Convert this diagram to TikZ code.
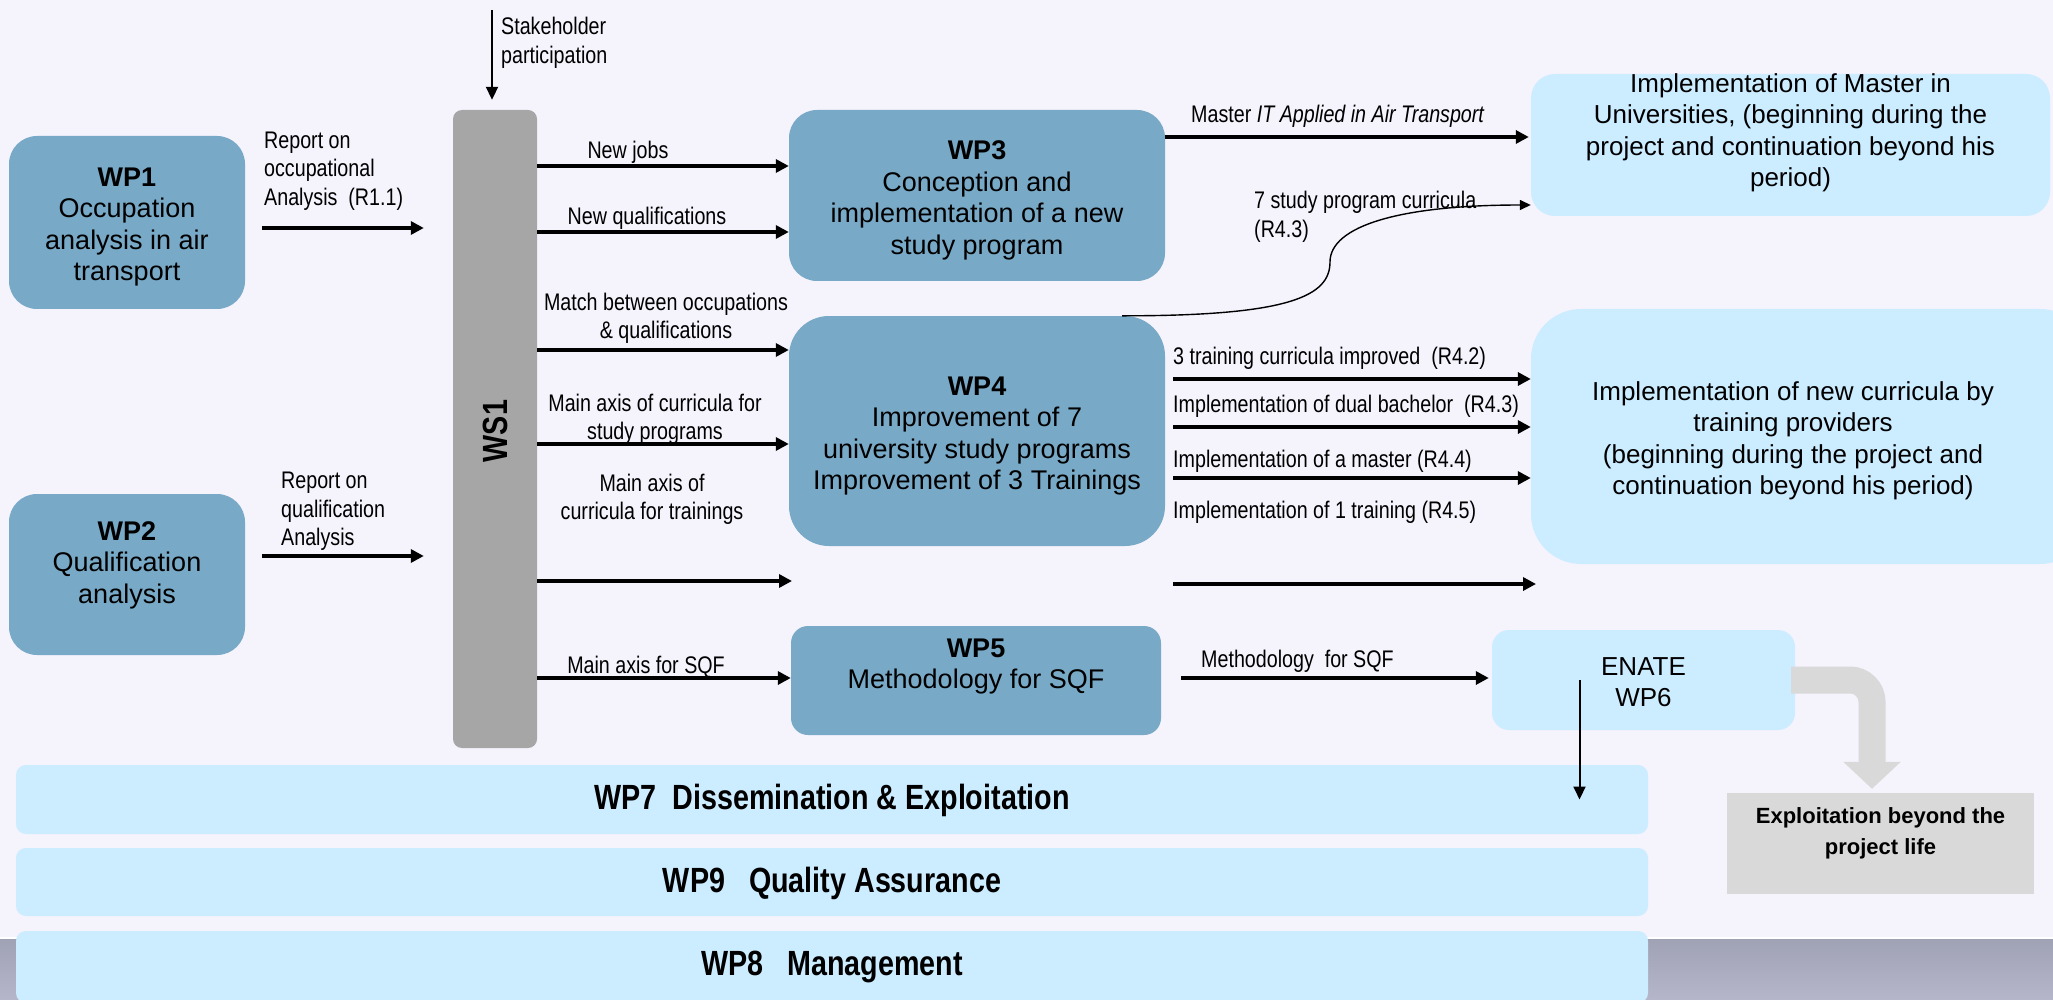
\documentclass[tikz,border=0pt]{standalone}
\usepackage{fontspec}
\setmainfont{Liberation Sans}
\newfontfamily\nar[FakeStretch=0.82]{Liberation Sans}
\usetikzlibrary{arrows.meta,calc}
\definecolor{bgc}{HTML}{F5F3FC}
\definecolor{wpblue}{HTML}{78A9C7}
\definecolor{lblue}{HTML}{CCECFF}
\definecolor{wsgray}{HTML}{A6A6A6}
\definecolor{exgray}{HTML}{D9D9D9}
\definecolor{stripT}{HTML}{9FA1B4}
\definecolor{stripB}{HTML}{B6B6CB}
\tikzset{
  wpbox/.style={fill=wpblue, draw=none, rounded corners=#1, inner sep=0pt},
  wpbox/.default=26pt,
  lbox/.style={fill=lblue, draw=none, rounded corners=#1, inner sep=0pt},
  lbox/.default=22pt,
  boxtext/.style={font=\fontsize{27}{31.5}\selectfont, align=center, inner sep=0pt},
  lboxtext/.style={font=\fontsize{26}{31.5}\selectfont, align=center, inner sep=0pt},
  band/.style={fill=lblue, draw=none, rounded corners=10pt, inner sep=0pt,
    minimum width=1632pt},
  bandtext/.style={font=\nar\bfseries\fontsize{35}{40}\selectfont, inner sep=0pt},
  lbl/.style={font=\nar\fontsize{24}{28.5}\selectfont, inner sep=0pt, align=center, yshift=-2pt},
  lbll/.style={font=\nar\fontsize{24}{28.5}\selectfont, inner sep=0pt, align=left, anchor=west, yshift=-2pt},
  arr/.style={line width=3.5pt, -{Triangle[length=13pt,width=13pt]}},
  thinarr/.style={line width=2pt, -{Triangle[length=13pt,width=12pt]}},
  curvearr/.style={line width=1.4pt, -{Triangle[length=11pt,width=10pt]}},
}
\begin{document}
\begin{tikzpicture}[x=1pt,y=-1pt]
\useasboundingbox (0,0) rectangle (2053,1000);
\clip (0,0) rectangle (2053,1000);
\fill[bgc] (0,0) rectangle (2053,1000);
\shade[top color=stripT, bottom color=stripB] (0,938) rectangle (2053,1000);
\draw[white, line width=1.5pt] (0,938) -- (2053,938);

% work packages
\node[wpbox=28pt, minimum width=236pt, minimum height=173pt,
  label={[boxtext, yshift=-4.5pt]center:{\textbf{WP1}\\Occupation\\analysis in air\\transport}}] (wp1) at (127,222.5) {};
\node[wpbox=28pt, minimum width=236pt, minimum height=161pt,
  label={[boxtext, yshift=9.5pt]center:{\textbf{WP2}\\Qualification\\analysis}}] (wp2) at (127,574.5) {};
\node[fill=wsgray, rounded corners=9pt, minimum width=84pt, minimum height=638pt, inner sep=0pt] (ws1) at (495,429) {};
\node[rotate=90, font=\nar\bfseries\fontsize{35}{40}\selectfont, inner sep=0pt] (ws1t) at (495,431) {WS1};
\node[wpbox=28pt, minimum width=376pt, minimum height=171pt,
  label={[boxtext, yshift=-5pt]center:{\textbf{WP3}\\Conception and\\implementation of a new\\study program}}] (wp3) at (977,195.5) {};
\node[wpbox=40pt, minimum width=376pt, minimum height=230pt,
  label={[boxtext, yshift=-5pt]center:{\textbf{WP4}\\Improvement of 7\\university study programs\\Improvement of 3 Trainings}}] (wp4) at (977,431) {};
\node[wpbox=17pt, minimum width=370pt, minimum height=109pt,
  label={[boxtext, yshift=14pt]center:{\textbf{WP5}\\Methodology for SQF}}] (wp5) at (976,680.5) {};

% result boxes
\node[lbox=24pt, minimum width=519pt, minimum height=142pt,
  label={[lboxtext, yshift=12pt]center:{Implementation of Master in\\Universities, (beginning during the\\project and continuation beyond his\\period)}}] (master) at (1790.5,145) {};
\node[lbox=50pt, minimum width=559pt, minimum height=255pt,
  label={[lboxtext, xshift=-17.5pt, yshift=-4.5pt]center:{Implementation of new curricula by\\training providers\\(beginning during the project and\\continuation beyond his period)}}] (curr) at (1810.5,436.5) {};
\node[lbox=17pt, minimum width=303pt, minimum height=100pt,
  label={[lboxtext, yshift=-2pt]center:{ENATE\\WP6}}] (enate) at (1643.5,680) {};
\node[fill=exgray, minimum width=307pt, minimum height=101pt, inner sep=0pt,
  label={[font=\bfseries\fontsize{22}{31}\selectfont, align=center, inner sep=0pt, yshift=10pt]center:{Exploitation beyond the\\project life}}] (expl) at (1880.5,843.5) {};

% bands
\node[band, minimum height=69pt, label={[bandtext, yshift=-1pt]center:{WP7~ Dissemination \& Exploitation}}] (wp7) at (832,799.5) {};
\node[band, minimum height=68pt, label={[bandtext, yshift=-1pt]center:{WP9~~ Quality Assurance}}] (wp9) at (832,882) {};
\node[band, minimum height=72pt, label={[bandtext, yshift=0pt]center:{WP8~~ Management}}] (wp8) at (832,967) {};

% stakeholder
\coordinate (sh) at (492,10);
\draw[thinarr, shorten >=10pt] (sh) -- (sh |- ws1.north);
\node[lbll] (shl) at (501,41) {Stakeholder\\participation};

% inputs to WS1
\draw[arr, shorten <=17pt, shorten >=29pt] (wp1.east |- 0,228) -- (ws1.west |- 0,228);
\node[lbll] (l1) at (264,169) {Report on\\occupational\\Analysis~ (R1.1)};
\draw[arr, shorten <=17pt, shorten >=29pt] (wp2.east |- 0,556) -- (ws1.west |- 0,556);
\node[lbll] (l2) at (281,509.5) {Report on\\qualification\\Analysis};

% WS1 outputs
\draw[arr] (ws1.east |- 0,166) -- (wp3.west |- 0,166);
\node[lbl] (o1) at (628,150) {New jobs};
\draw[arr] (ws1.east |- 0,232) -- (wp3.west |- 0,232);
\node[lbl] (o2) at (647,216) {New qualifications};
\draw[arr] (ws1.east |- 0,350) -- (wp4.west |- 0,350);
\node[lbl] (o3) at (666,316.5) {Match between occupations\\\& qualifications};
\draw[arr] (ws1.east |- 0,444) -- (wp4.west |- 0,444);
\node[lbl] (o4) at (655,417.5) {Main axis of curricula for\\study programs};
\coordinate (o5e) at (792,581);
\draw[arr] (ws1.east |- o5e) -- (o5e);
\node[lbl] (o5) at (652,497.5) {Main axis of\\curricula for trainings};
\draw[arr] (ws1.east |- 0,678) -- (wp5.west |- 0,678);
\node[lbl] (o6) at (646,665) {Main axis for SQF};

% WP3 / WP4 outputs
\draw[arr, shorten >=2pt] (wp3.east |- 0,137) -- (master.west |- 0,137);
\node[lbll] (m1) at (1191,114) {Master \textit{IT Applied in Air Transport}};
\draw[curvearr] (wp4.north -| 1122,0) .. controls (1290,316) and (1330,296) .. (1330,262)
  .. controls (1330,226) and (1400,205) .. (master.west |- 0,205);
\node[lbll] (m2) at (1254,215) {7 study program curricula\\(R4.3)};
\draw[arr, shorten <=8pt] (wp4.east |- 0,379) -- (curr.west |- 0,379);
\node[lbll] (r1) at (1173,356) {3 training curricula improved~ (R4.2)};
\draw[arr, shorten <=8pt] (wp4.east |- 0,427) -- (curr.west |- 0,427);
\node[lbll] (r2) at (1173,404) {Implementation of dual bachelor~ (R4.3)};
\draw[arr, shorten <=8pt] (wp4.east |- 0,478) -- (curr.west |- 0,478);
\node[lbll] (r3) at (1173,459) {Implementation of a master (R4.4)};
\node[lbll] (r4) at (1173,510) {Implementation of 1 training (R4.5)};
\coordinate (r5e) at (1536,584);
\draw[arr, shorten <=8pt] (wp4.east |- r5e) -- (r5e);

% WP5 to ENATE
\draw[arr, shorten <=20pt, shorten >=3pt] (wp5.east |- 0,678) -- (enate.west |- 0,678);
\node[lbll] (s1) at (1201,659) {Methodology~ for SQF};

% ENATE down to WP7
\coordinate (d0) at ([xshift=-64pt]enate.center);
\draw[thinarr] (d0) -- (d0 |- wp7.center);

% big gray arrow
\draw[exgray, line width=27pt, rounded corners=22pt,
  -{Triangle[length=27pt,width=56pt]}]
  ([xshift=-4pt]enate.east) -| ([xshift=-8.5pt,yshift=4pt]expl.north);
\end{tikzpicture}
\end{document}
